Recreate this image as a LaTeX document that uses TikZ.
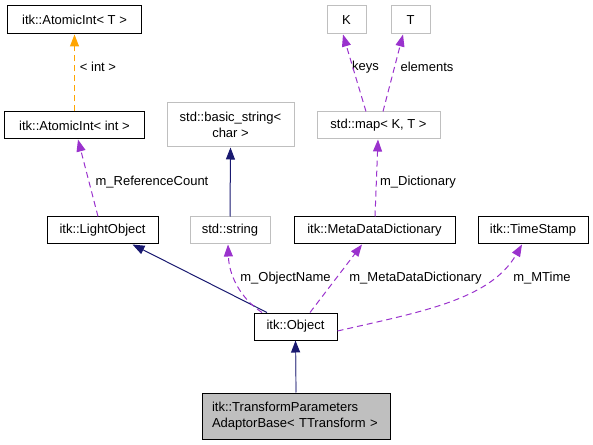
\documentclass[tikz,border=0pt]{standalone}
\usepackage{fontspec}
\setmainfont{Liberation Sans}
\usetikzlibrary{arrows.meta}
\definecolor{navy}{HTML}{191970}
\definecolor{orch}{HTML}{9A32CD}
\definecolor{orng}{HTML}{FFA500}
\definecolor{lgray}{HTML}{BFBFBF}
\definecolor{fillg}{HTML}{BFBFBF}
\tikzset{
  box/.style={draw=black, line width=1bp, inner sep=0pt, font=\fontsize{13bp}{16.7bp}\selectfont},
  gbox/.style={box, draw=lgray},
  lbl/.style={inner sep=0pt, font=\fontsize{13bp}{16bp}\selectfont},
  tip/.style={-{Triangle[length=12bp,width=9bp]}},
  inh/.style={tip, draw=navy, line width=1bp},
  usep/.style={tip, draw=orch, line width=1bp, dash pattern=on 6bp off 4bp},
  tmpl/.style={tip, draw=orng, line width=1bp, dash pattern=on 6bp off 4bp},
}
\begin{document}
\begin{tikzpicture}[x=1bp,y=-1bp]
\useasboundingbox (0,0) rectangle (593,445);
% nodes
\node[box, minimum width=133bp, minimum height=28bp] (aT) at (74.5,20) {itk::AtomicInt< T >};
\node[box, minimum width=139bp, minimum height=27bp] (ai) at (74.5,125.5) {itk::AtomicInt< int >};
\node[box, minimum width=111bp, minimum height=27bp] (lo) at (102.5,230.5) {itk::LightObject};
\node[gbox, minimum width=127bp, minimum height=44bp, align=center] (bs) at (230.5,125) {std::basic\_string<\\char >};
\node[gbox, minimum width=80bp, minimum height=27bp] (ss) at (230,230.5) {std::string};
\node[gbox, minimum width=39bp, minimum height=28bp] (K) at (346.5,20) {K};
\node[gbox, minimum width=39bp, minimum height=28bp] (T) at (410.5,20) {T};
\node[gbox, minimum width=123bp, minimum height=27bp] (map) at (378.5,125.5) {std::map< K, T >};
\node[box, minimum width=161bp, minimum height=27bp] (mdd) at (374.5,230.5) {itk::MetaDataDictionary};
\node[box, minimum width=110bp, minimum height=27bp] (ts) at (533,230.5) {itk::TimeStamp};
\node[box, minimum width=83bp, minimum height=27bp] (obj) at (295.5,326.5) {itk::Object};
\node[box, fill=fillg, minimum width=188bp, minimum height=46bp, align=left, text width=168bp] (tpa) at (296,416) {itk::TransformParameters\\AdaptorBase< TTransform >};
% labels
\node[lbl] (l1) at (98,67) {< int >};
\node[lbl] (l2) at (152,182) {m\_ReferenceCount};
\node[lbl] (l3) at (365.5,67) {keys};
\node[lbl] (l4) at (427,67) {elements};
\node[lbl] (l5) at (418,182) {m\_Dictionary};
\node[lbl] (l6) at (285.5,278) {m\_ObjectName};
\node[lbl] (l7) at (415.5,278) {m\_MetaDataDictionary};
\node[lbl] (l8) at (542,278) {m\_MTime};
% edges
\draw[tmpl] (ai.north) -- (aT.south);
\draw[usep] ([xshift=-4.5bp]lo.north) -- ([xshift=3.5bp]ai.south);
\draw[inh] (ss.north) -- (bs.south);
\draw[usep] ([xshift=-12.5bp]map.north) -- ([xshift=-3.5bp]K.south);
\draw[usep] ([xshift=4.5bp]map.north) -- ([xshift=-7.5bp]T.south);
\draw[usep] ([xshift=0.5bp]mdd.north) -- ([xshift=-0.5bp]map.south);
\draw[inh] ([xshift=-28.5bp]obj.north) -- ([xshift=30bp]lo.south);
\draw[usep] ([xshift=-33.5bp]obj.north) .. controls (240,298) and (229,275) .. ([xshift=-2bp]ss.south);
\draw[usep] ([xshift=14.5bp]obj.north) -- ([xshift=-12.5bp]mdd.south);
\draw[usep] ([yshift=-4.5bp]obj.east) .. controls (420,312) and (490,300) .. ([xshift=-11bp]ts.south);
\draw[-{Triangle[length=12bp,width=9bp,color=navy]}, draw=navy!70, line width=1.2bp] (tpa.north) -- (obj.south);
\end{tikzpicture}
\end{document}
